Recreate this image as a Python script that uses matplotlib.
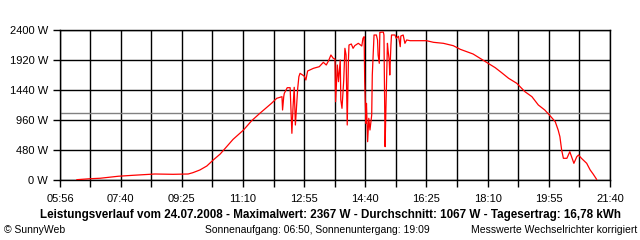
import matplotlib
matplotlib.use('Agg')
import matplotlib.pyplot as plt
import numpy as np

# readings of the day (time of day, power in W)
times = ['06:25', '06:47', '07:05', '07:25', '07:36', '08:01', '08:39', '09:10', '09:36', '09:44',
         '09:56', '10:08', '10:19', '10:31', '10:53', '11:11', '11:25', '11:39', '11:59', '12:08',
         '12:17', '12:18', '12:20', '12:21', '12:26', '12:31', '12:34', '12:36', '12:38', '12:40',
         '12:44', '12:46', '12:48', '12:55', '12:58', '13:01', '13:11', '13:21', '13:28', '13:33',
         '13:37', '13:41', '13:45', '13:48', '13:49', '13:52', '13:54', '13:57', '13:58', '14:00',
         '14:03', '14:05', '14:07', '14:09', '14:11', '14:12', '14:16', '14:19', '14:22', '14:28',
         '14:34', '14:36', '14:38', '14:39', '14:41', '14:42', '14:44', '14:46', '14:48', '14:51',
         '14:52', '14:55', '14:59', '15:01', '15:02', '15:04', '15:05', '15:11', '15:12', '15:14',
         '15:15', '15:18', '15:19', '15:21', '15:22', '15:24', '15:25', '15:31', '15:33', '15:37',
         '15:40', '15:41', '15:45', '15:48', '15:51', '15:57', '16:25', '16:37', '16:54', '17:11',
         '17:23', '17:34', '17:45', '17:57', '18:11', '18:23', '18:34', '18:46', '19:00', '19:14',
         '19:26', '19:37', '19:48', '19:56', '20:06', '20:11', '20:14', '20:17', '20:20', '20:26',
         '20:31', '20:34', '20:38', '20:43', '20:46', '20:51', '21:00', '21:06', '21:11', '21:17']
power = [5, 20, 28, 48, 60, 75, 96, 91, 96, 117,
         160, 224, 320, 416, 650, 800, 949, 1067, 1227, 1307,
         1333, 1120, 1333, 1387, 1477, 1477, 747, 1173, 1483, 880,
         1467, 1653, 1707, 1664, 1600, 1744, 1787, 1813, 1883, 1840,
         1909, 2000, 1947, 1936, 1253, 1840, 1573, 1920, 1280, 1147,
         1600, 2107, 2000, 880, 1900, 2160, 2176, 2107, 2150, 2187,
         2144, 2267, 2293, 1573, 907, 1227, 613, 987, 800, 1040,
         1680, 2320, 2320, 2240, 2000, 1867, 2363, 2367, 2320, 533,
         987, 2187, 2080, 1920, 1680, 2160, 2320, 2320, 2267, 2300,
         2133, 2304, 2320, 2187, 2240, 2229, 2229, 2203, 2187, 2149,
         2091, 2053, 2016, 1947, 1867, 1797, 1717, 1627, 1547, 1413,
         1333, 1200, 1120, 1040, 933, 800, 693, 480, 347, 347,
         453, 373, 267, 373, 400, 347, 267, 160, 96, 11]
average = 1067
x_labels = ['05:56', '07:40', '09:25', '11:10', '12:55', '14:40', '16:25', '18:10', '19:55', '21:40']
y_values = [0, 480, 960, 1440, 1920, 2400]

title = ('Leistungsverlauf vom 24.07.2008 - Maximalwert: 2367 W - '
         'Durchschnitt: 1067 W - Tagesertrag: 16,78 kWh')


def to_min(s):
    h, m = s.split(':')
    return int(h) * 60 + int(m)


t = np.array([to_min(s) for s in times])
x_major = [to_min(s) for s in x_labels]
x_minor = [(a + b) / 2 for a, b in zip(x_major[:-1], x_major[1:])]

plt.rcParams['font.family'] = ['Liberation Sans', 'DejaVu Sans']

fig = plt.figure(figsize=(6.4, 2.4), dpi=100)
ax = fig.add_axes([60 / 640, 1 - 180 / 240, 550 / 640, 150 / 240])

ax.set_xlim(x_major[0], x_major[-1])
ax.set_ylim(0, 2400)

ax.set_xticks(x_major)
ax.set_xticklabels(x_labels)
ax.set_xticks(x_minor, minor=True)
ax.set_yticks(y_values)
ax.set_yticklabels([f'{v} W' for v in y_values])

ax.grid(True, which='both', color='black', linewidth=1.0)
ax.tick_params(which='both', direction='out', length=5, width=1.0,
               labelsize=8, color='black')
ax.tick_params(axis='x', pad=5)
for sp in ax.spines.values():
    sp.set_linewidth(1.0)

ax.axhline(average, color='#808080', linewidth=1.0, zorder=2.5)
ax.plot(t, power, color='red', linewidth=0.9, zorder=3)

fig.text(330 / 640, 1 - 215 / 240, title, ha='center', va='center',
         fontsize=8.4, fontweight='bold')
fig.text(4 / 640, 1 - 230 / 240, '\u00a9 SunnyWeb', ha='left', va='center', fontsize=7.5)
fig.text(205 / 640, 1 - 230 / 240, 'Sonnenaufgang: 06:50, Sonnenuntergang: 19:09',
         ha='left', va='center', fontsize=7.5)
fig.text(637 / 640, 1 - 230 / 240, 'Messwerte Wechselrichter korrigiert',
         ha='right', va='center', fontsize=7.5)

fig.savefig('out.png', dpi=100, facecolor='white')
plt.close()
